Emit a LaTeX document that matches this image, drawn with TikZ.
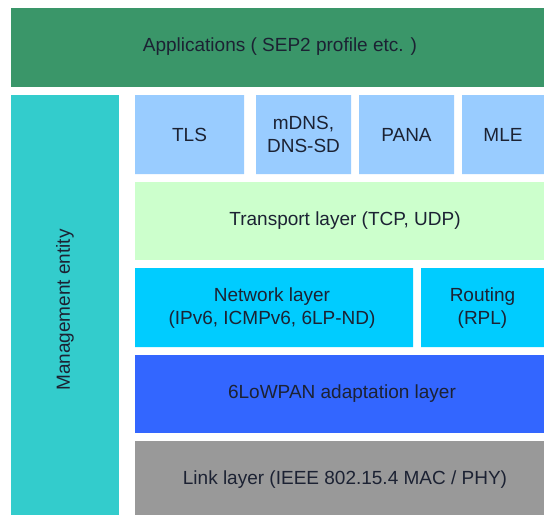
\documentclass[tikz,border=0pt]{standalone}
\usepackage{fontspec}
\setmainfont{Liberation Sans}
\definecolor{appgreen}{HTML}{3A9669}
\definecolor{mgmtteal}{HTML}{33CCCC}
\definecolor{topblue}{HTML}{99CCFF}
\definecolor{transgreen}{HTML}{CCFFCC}
\definecolor{netcyan}{HTML}{00CCFF}
\definecolor{lowblue}{HTML}{3366FF}
\definecolor{linkgray}{HTML}{999999}
\definecolor{txtdark}{HTML}{1C2233}
\tikzset{
    label/.style={align=center, text=txtdark, inner sep=0pt,
        font=\fontsize{19}{23}\selectfont}
}
\begin{document}
\begin{tikzpicture}[x=1pt, y=-1pt]
    \useasboundingbox[fill=white] (0,0) rectangle (544,515);

    % --- TOP: APPLICATIONS ---
    \fill[appgreen] (11,8) rectangle (544,87);
    \node[label] (apps) at (280,47) {Applications ( SEP2 profile etc. )};

    % --- LEFT: MANAGEMENT ---
    \fill[mgmtteal] (11,95) rectangle (119,515);
    \node[label, rotate=90] (mgmt) at (65,310) {Management entity};

    % --- PROTOCOL STACK ---
    \begin{scope}
        % Top row
        \fill[topblue]
            (135,95) rectangle (244,174)
            (256,95) rectangle (351,174)
            (359,95) rectangle (454,174)
            (462,95) rectangle (544,174);
        \node[label] (tls) at (189.5,134.5) {TLS};
        \node[label] (mdns) at (303.5,134.5) {mDNS,\\DNS-SD};
        \node[label] (pana) at (406.5,134.5) {PANA};
        \node[label] (mle) at (503,134.5) {MLE};

        % Transport
        \fill[transgreen] (135,182) rectangle (544,260);
        \node[label] (transport) at (345,221) {Transport layer (TCP, UDP)};

        % Network + routing
        \fill[netcyan]
            (135,268) rectangle (413,347)
            (421,268) rectangle (544,347);
        \node[label] (network) at (272,308) {Network layer\\(IPv6, ICMPv6, 6LP-ND)};
        \node[label] (routing) at (482.5,308) {Routing\\(RPL)};

        % Adaptation
        \fill[lowblue] (135,355) rectangle (544,433);
        \node[label] (lowpan) at (342,394) {6LoWPAN adaptation layer};

        % Link
        \fill[linkgray] (135,441) rectangle (544,515);
        \node[label] (link) at (345,480) {Link layer (IEEE 802.15.4 MAC / PHY)};
    \end{scope}
\end{tikzpicture}
\end{document}
